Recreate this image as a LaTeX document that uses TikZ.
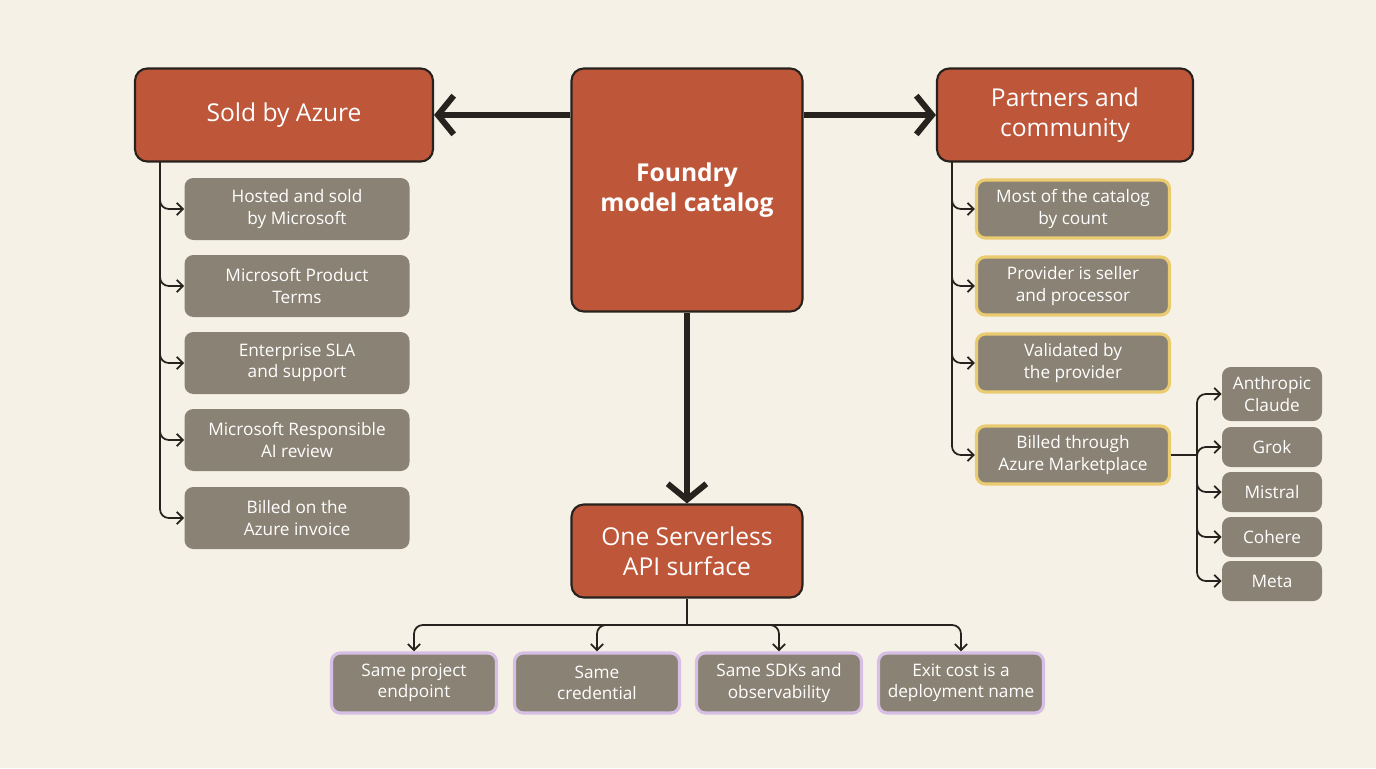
\documentclass[tikz,border=0pt]{standalone}
\usepackage{fontspec}
\setmainfont{Open Sans}
\usetikzlibrary{positioning, calc, arrows.meta}
\definecolor{bgcolor}{RGB}{245,241,230}
\definecolor{headcolor}{RGB}{190,86,58}
\definecolor{itemcolor}{RGB}{138,130,116}
\definecolor{inkcolor}{RGB}{40,34,30}
\definecolor{partnercolor}{RGB}{234,203,112}
\definecolor{apicolor}{RGB}{214,190,228}
\tikzset{
  %% head : a main box
  head/.style={
    rectangle,
    rounded corners=7pt,
    draw=inkcolor,
    line width=1.2pt,
    fill=headcolor,
    text=white,
    font=\fontsize{14}{17}\selectfont,
    align=center
  },
  %% item : a plain property box
  item/.style={
    rectangle,
    rounded corners=5pt,
    fill=itemcolor,
    text=white,
    font=\fontsize{9.8}{12}\selectfont,
    align=center,
    inner sep=0pt
  },
  %% partner : property with yellow rim
  partner/.style={item, draw=partnercolor, line width=1.8pt},
  %% api : property with purple rim
  api/.style={item, draw=apicolor, line width=1.8pt},
  %% branch : thin connector
  branch/.style={draw=inkcolor, line width=1pt, rounded corners=5pt,
    -{Straight Barb[length=3.5pt,width=7pt]}},
  %% trunk : thick connector
  trunk/.style={draw=inkcolor, line width=3.4pt,
    -{Straight Barb[length=9pt,width=22pt]}}
}
\begin{document}
\begin{tikzpicture}[x=0.02cm, y=-0.02cm]
  \fill [bgcolor] (0,0) rectangle (1376,768);

  %% main boxes
  \node (catalog) [head, minimum width=231*0.02cm, minimum height=243*0.02cm,
    font=\bfseries\fontsize{14}{17}\selectfont] at (687,190) {Foundry\\model catalog};
  \node (azure) [head, minimum width=298*0.02cm, minimum height=93*0.02cm]
    at (284,115) {Sold by Azure};
  \node (partners) [head, minimum width=256*0.02cm, minimum height=93*0.02cm]
    at (1065,115) {Partners and\\community};
  \node (api) [head, minimum width=231*0.02cm, minimum height=93*0.02cm]
    at (687,551) {One Serverless\\API surface};

  \draw [trunk] (catalog.west |- azure) -- (azure);
  \draw [trunk] (catalog.east |- partners) -- (partners);
  \draw [trunk] (catalog) -- (api);

  %% sold by Azure
  \coordinate (azure_root) at (160,162);
  \foreach \n/\y/\t in {1/209/{Hosted and sold\\by Microsoft},
                        2/286/{Microsoft Product\\Terms},
                        3/363/{Enterprise SLA\\and support},
                        4/440/{Microsoft Responsible\\AI review},
                        5/518/{Billed on the\\Azure invoice}}{
    \node (az\n) [item, minimum width=225*0.02cm, minimum height=62*0.02cm]
      at (297,\y) {\t};
    \draw [branch] (azure_root) |- (az\n.west);
  }

  %% partners and community
  \coordinate (partner_root) at (952,162);
  \foreach \n/\y/\t in {1/209/{Most of the catalog\\by count},
                        2/286/{Provider is seller\\and processor},
                        3/363/{Validated by\\the provider},
                        4/455/{Billed through\\Azure Marketplace}}{
    \node (pc\n) [partner, minimum width=193*0.02cm, minimum height=58*0.02cm]
      at (1073,\y) {\t};
    \draw [branch] (partner_root) |- (pc\n.west);
  }

  %% marketplace providers
  \coordinate (market_root) at (1197,455);
  \node (vendor1) [item, minimum width=100*0.02cm, minimum height=54*0.02cm]
    at (1272,394) {Anthropic\\Claude};
  \foreach \n/\y/\t in {2/447/Grok, 3/492/Mistral, 4/537/Cohere, 5/581/Meta}{
    \node (vendor\n) [item, minimum width=100*0.02cm, minimum height=40*0.02cm]
      at (1272,\y) {\t};
  }
  \draw [draw=inkcolor, line width=1pt] (pc4.east) -- (market_root);
  \foreach \n in {1,...,5}{
    \draw [branch] (market_root) |- (vendor\n.west);
  }

  %% serverless API
  \coordinate (api_root) at (687,625);
  \draw [draw=inkcolor, line width=1pt] (api.south) -- (api_root);
  \foreach \n/\x/\t in {1/414/{Same project\\endpoint},
                        2/597/{Same\\credential},
                        3/779/{Same SDKs and\\observability},
                        4/961/{Exit cost is a\\deployment name}}{
    \node (ap\n) [api, minimum width=165*0.02cm, minimum height=60*0.02cm]
      at (\x,683) {\t};
    \draw [branch] (api_root) -| (ap\n.north);
  }
\end{tikzpicture}
\end{document}
